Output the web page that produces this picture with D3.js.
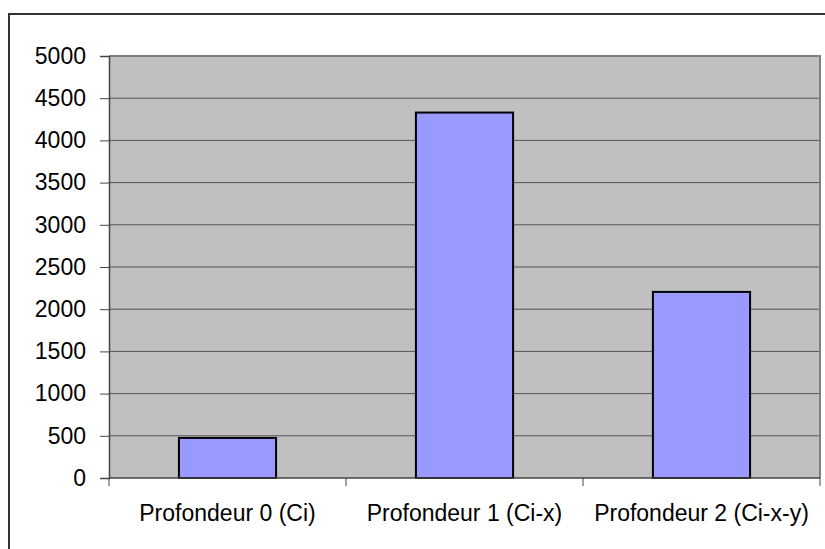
<!DOCTYPE html>
<html>
<head>
<meta charset="utf-8">
<script src="https://cdn.jsdelivr.net/npm/d3@7"></script>
<style>
  html, body { margin: 0; padding: 0; background: #fff; }
  svg text { font-family: "Liberation Sans", Arial, sans-serif; }
</style>
</head>
<body>
<div id="chart"></div>
<script>
// données
const categories = ["Profondeur 0 (Ci)", "Profondeur 1 (Ci-x)", "Profondeur 2 (Ci-x-y)"];
const values = [475, 4330, 2205];
const yTicks = [0, 500, 1000, 1500, 2000, 2500, 3000, 3500, 4000, 4500, 5000];

const width = 825, height = 549;
const plot = { left: 109, top: 56, right: 820, bottom: 478 };

const svg = d3.select("#chart").append("svg")
    .attr("width", width)
    .attr("height", height);

// cadre extérieur
svg.append("rect")
    .attr("x", 9).attr("y", 14)
    .attr("width", 830).attr("height", 560)
    .attr("fill", "none")
    .attr("stroke", "#333")
    .attr("stroke-width", 2);

const x = d3.scaleBand()
    .domain(categories)
    .range([plot.left, plot.right])
    .paddingInner(0.59)
    .paddingOuter(0.295);

const y = d3.scaleLinear()
    .domain([0, 5000])
    .range([plot.bottom, plot.top]);

// fond gris de la zone de traçage
svg.append("rect")
    .attr("x", plot.left).attr("y", plot.top)
    .attr("width", plot.right - plot.left)
    .attr("height", plot.bottom - plot.top)
    .attr("fill", "#c0c0c0");

// lignes de quadrillage
svg.append("g")
    .selectAll("line")
    .data(yTicks.filter(d => d > 0 && d < 5000))
    .join("line")
    .attr("x1", plot.left).attr("x2", plot.right)
    .attr("y1", d => y(d)).attr("y2", d => y(d))
    .attr("stroke", "#555")
    .attr("stroke-width", 1);

// bordure haut / droite
svg.append("path")
    .attr("d", `M${plot.left},${plot.top}H${plot.right}V${plot.bottom}`)
    .attr("fill", "none")
    .attr("stroke", "#808080")
    .attr("stroke-width", 2);

// barres
svg.append("g")
    .selectAll("rect")
    .data(values)
    .join("rect")
    .attr("x", (d, i) => x(categories[i]))
    .attr("y", d => y(d))
    .attr("width", x.bandwidth())
    .attr("height", d => y(0) - y(d))
    .attr("fill", "#9999ff")
    .attr("stroke", "#000")
    .attr("stroke-width", 2);

// axe Y
const yAxis = svg.append("g")
    .attr("transform", `translate(${plot.left},0)`)
    .call(d3.axisLeft(y).tickValues(yTicks).tickSize(9).tickPadding(14).tickFormat(d3.format("d")));
yAxis.select(".domain").attr("stroke", "#444").attr("stroke-width", 1.5);
yAxis.selectAll(".tick line").attr("stroke", "#444");
yAxis.selectAll("text")
    .attr("fill", "#000")
    .style("font-size", "23px");

// axe X : graduations entre les catégories
const xBounds = d3.range(categories.length + 1).map(i => plot.left + i * (plot.right - plot.left) / categories.length);
svg.append("line")
    .attr("x1", plot.left).attr("x2", plot.right)
    .attr("y1", plot.bottom).attr("y2", plot.bottom)
    .attr("stroke", "#444").attr("stroke-width", 1.5);
svg.append("g")
    .selectAll("line")
    .data(xBounds)
    .join("line")
    .attr("x1", d => d).attr("x2", d => d)
    .attr("y1", plot.bottom).attr("y2", plot.bottom + 8)
    .attr("stroke", "#444");

svg.append("g")
    .selectAll("text")
    .data(categories)
    .join("text")
    .attr("x", d => x(d) + x.bandwidth() / 2)
    .attr("y", 521)
    .attr("text-anchor", "middle")
    .style("font-size", "23px")
    .text(d => d);
</script>
</body>
</html>
